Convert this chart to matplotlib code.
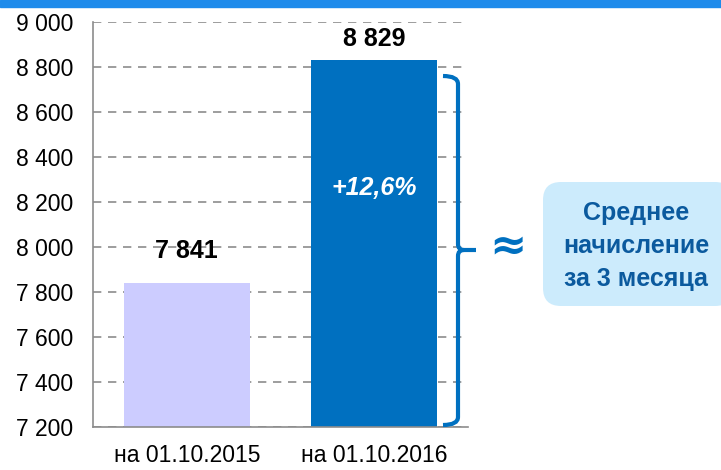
import matplotlib
matplotlib.use("Agg")
import matplotlib.pyplot as plt
from matplotlib.patches import FancyBboxPatch, Rectangle
from matplotlib.path import Path
from matplotlib.patches import PathPatch

categories = ["на 01.10.2015", "на 01.10.2016"]
values = [7841, 8829]
value_labels = ["7 841", "8 829"]
yticks = [7200, 7400, 7600, 7800, 8000, 8200, 8400, 8600, 8800, 9000]
ytick_labels = ["7 200", "7 400", "7 600", "7 800", "8 000", "8 200", "8 400", "8 600", "8 800", "9 000"]
growth_label = "+12,6%"
box_text = "Среднее\nначисление\nза 3 месяца"

plt.rcParams['font.family'] = ['Liberation Sans Narrow', 'Liberation Sans', 'DejaVu Sans']

fig = plt.figure(figsize=(7.21, 4.70), dpi=100)
W, H = 721, 470
ax = fig.add_axes([93/W, 1-427/H, (468-93)/W, (427-22)/H])

colors = ["#CCCCFF", "#0070C0"]
x = list(range(len(categories)))
ax.bar(x, values, width=0.67, color=colors, zorder=2)
ax.set_xlim(-0.5, 1.5)
ax.set_ylim(7200, 9000)
ax.set_yticks(yticks)
ax.set_yticklabels(ytick_labels, fontsize=16.5)
ax.set_xticks(x)
ax.set_xticklabels(categories, fontsize=16.5)
ax.tick_params(axis='x', length=0, pad=12)
ax.tick_params(axis='y', length=0, pad=14)
ax.grid(axis='y', linestyle=(0, (5, 4)), color='#8C8C8C', linewidth=1.2, zorder=1)
for s in ['top', 'right']:
    ax.spines[s].set_visible(False)
for s in ['left', 'bottom']:
    ax.spines[s].set_color('#8C8C8C')
    ax.spines[s].set_linewidth(1.2)

label_offsets = [14, 7]
for xi, v, lab, off in zip(x, values, value_labels, label_offsets):
    ax.annotate(lab, (xi, v), xytext=(0, off), textcoords='offset points',
                ha='center', va='bottom', fontsize=18, fontweight='bold', color='black')

ax.text(1, 8262, growth_label, ha='center', va='center', fontsize=18, fontweight='bold',
        style='italic', color='white', zorder=3)

# top strip
fig.patches.append(Rectangle((0, 1-7/H), 1, 7/H, transform=fig.transFigure, color='#1E8BEB', zorder=0))

def fx(px):
    return px / W
def fy(py):
    return 1 - py / H
bx, top, bot, mid, tipx = 458, 76, 425, 250, 476
verts = [(443, top), (bx, top), (bx, top+8),
         (bx, mid-6), (bx, mid), (bx+6, mid), (tipx, mid),
         (bx+6, mid), (bx, mid), (bx, mid+6),
         (bx, bot-8), (bx, bot), (443, bot)]
codes = [Path.MOVETO, Path.CURVE3, Path.CURVE3,
         Path.LINETO, Path.CURVE3, Path.CURVE3, Path.LINETO,
         Path.MOVETO, Path.CURVE3, Path.CURVE3,
         Path.LINETO, Path.CURVE3, Path.CURVE3]
path = Path([(fx(a), fy(b)) for a, b in verts], codes)
fig.patches.append(PathPatch(path, transform=fig.transFigure, fill=False, edgecolor='#0070C0', linewidth=3))

fig.text(fx(508), fy(246), "≈", ha='center', va='center', fontsize=32, fontweight='bold',
         color='#0070C0', family=['DejaVu Sans'])

box = FancyBboxPatch((fx(543), fy(306)), fx(190), (306-182)/H, boxstyle="round,pad=0,rounding_size=0.025",
                     transform=fig.transFigure, facecolor='#CCEBFC', edgecolor='none', mutation_aspect=W/H)
fig.patches.append(box)
fig.text(fx(636), fy(246), box_text, ha='center', va='center', fontsize=18, fontweight='bold',
         color='#0B5A9E', linespacing=1.45)

fig.savefig("out.png", dpi=100)
